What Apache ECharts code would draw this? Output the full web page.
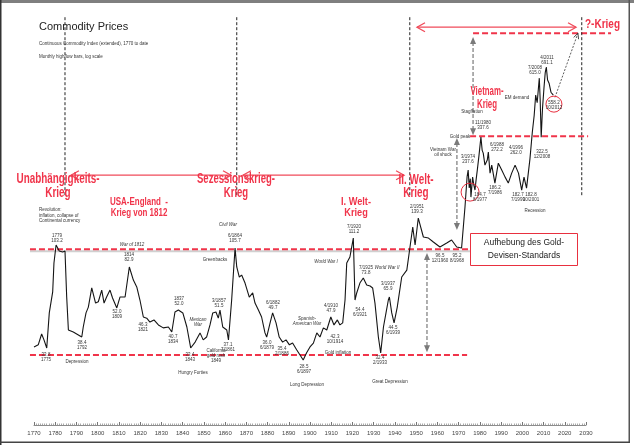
<!DOCTYPE html>
<html><head><meta charset="utf-8">
<script src="https://cdn.jsdelivr.net/npm/echarts@6/dist/echarts.min.js"></script>
<style>html,body{margin:0;padding:0;background:#fff}#c{width:634px;height:445px}</style>
</head><body><div id="c"></div>
<script>
// ---- data ----
const years = [1770,1772,1773.6,1774.7,1776,1777.2,1778.8,1779.4,1780.4,1781.9,1783.5,1784.6,1785.4,1786.2,1788.5,1790.9,1792.5,1793.2,1794.5,1795.6,1797.2,1799,1800.3,1801.9,1803,1804.2,1805.8,1807,1809,1810.5,1812.9,1814.9,1816.8,1818.4,1819.9,1821.5,1823.1,1824.6,1826.5,1828.6,1830.9,1833.3,1834.9,1836.4,1838,1840.1,1842,1843.8,1845.9,1848.2,1849.7,1851.3,1852.9,1854.2,1855.7,1856.8,1857.6,1858.9,1860.8,1861.6,1863.1,1864.7,1865.5,1866.7,1867.8,1869.4,1871.4,1873,1874.1,1875.7,1877.2,1878.8,1879.6,1881.2,1882.4,1884,1885.5,1887.1,1888.7,1890.3,1891.8,1893.7,1895.3,1896.8,1898.4,1900,1901.6,1903.2,1904.7,1906.3,1907.9,1909.8,1911.3,1912.9,1914.1,1915.4,1916.5,1917.3,1918.8,1920.4,1921.2,1922,1923.5,1925.1,1926.7,1928.3,1929.5,1930.6,1932.2,1933.3,1934.6,1935.8,1936.9,1937.4,1938.5,1939.6,1941.1,1943.2,1945.6,1947.1,1948.4,1949.5,1951,1953.4,1955.8,1958.1,1961.2,1964.4,1966.7,1969.1,1971.4,1973,1974,1974.5,1975,1975.5,1975.8,1976.6,1977.2,1977.7,1978.3,1978.8,1979.6,1980.5,1981.1,1981.6,1982.4,1983.5,1984,1984.8,1985.6,1987.1,1988.7,1990.3,1991.9,1993.4,1995,1996.6,1998.2,1999.7,2000.8,2002,2003.6,2004.7,2005.6,2006.3,2007,2008,2008.4,2008.9,2009.5,2010.2,2010.8,2011.3,2011.9,2012.6,2013.5,2014.6];
const values = [36.3,37.1,41.6,39.1,35.9,52.0,64.9,88.1,106.6,100,99,100,61.5,43.4,42.5,41.2,40.3,44.8,52.0,55.3,67.7,57.7,58.5,66.2,57.7,61.5,66.2,60.9,54.8,61.5,61.5,84.5,73.6,68.4,59.6,49.8,49.2,47.2,48.3,45.8,44.4,44.8,42.5,52.5,53.6,52.0,44.8,35.9,38.2,42.1,39.1,40.3,45.8,52.0,52.5,49.2,53.6,44.8,43.4,39.1,59.6,103.2,84.5,76.0,77.6,71.3,61.5,64.2,57.7,53.6,49.8,42.1,40.3,46.8,52.0,46.8,40.3,38.2,39.1,37.1,37.8,35.2,33.3,31.6,34.1,36.3,37.8,42.1,40.3,44.4,43.4,49.8,45.8,48.3,45.8,46.8,59.6,88.1,93.9,114.7,59.6,64.2,71.3,75.2,69.9,69.1,67.7,57.7,40.3,34.1,44.8,52.0,59.6,61.5,52.0,46.8,55.3,76.0,81.8,104.4,128.9,106.6,141.8,116.0,114.7,110.0,104.4,108.8,112.4,104.4,103.2,159.2,220,235.3,195,215,176.9,218.5,200,190.6,215,235.3,275,333.4,290,281.6,248.1,261.6,284.6,228.0,248.1,205.1,253.3,235.3,218.5,205.1,228.0,248.1,228.0,190.6,218.5,194.6,265,350,420,520,480,622,500,333,450,560,660,700,610,590,536,520];
const xTickLabels = [1770,1780,1790,1800,1810,1820,1830,1840,1850,1860,1870,1880,1890,1900,1910,1920,1930,1940,1950,1960,1970,1980,1990,2000,2010,2020,2030];

// annotation geometry in data space [yearStart, yearEnd, level]
const levelLines = [[1768.1,1976.3,102],[1768.1,1974,33.3],[1975.4,2031,337],[1976.8,2041.8,1000]];
// black dashed era separators [year, top, bottom]
const eraLines = [[1784.6,1185,179],[1865.5,1185,179],[1947,1185,179],[2028,1185,179]];
// red double arrows [yearStart, yearEnd, level]
const eraArrows = [[1787.4,1862.8,223],[1868.4,1944.3,223],[1950.4,2025.3,1066]];
// gray dashed vertical double arrows [year, top, bottom]
const rangeArrows = [[1976.8,960,340],[1969.2,330,125],[1955.1,98,34.3]];
// projection arrow [year1, v1, year2, v2]
const projection = [[2015.4,508,2026.2,1000]];
// circled points [year, value]
const circled = [[2014.9,472.6],[1975.4,186.5]];
const circleRadius = [8, 9];

const RED = '#f0344a';
const chart = echarts.init(document.getElementById('c'), null, {renderer:'canvas'});

const mctx = document.createElement('canvas').getContext('2d');
function fitScale(text, font, width){
  mctx.font = font;
  const w = Math.max(...text.split('\n').map(t => mctx.measureText(t).width));
  return width / w;
}

// small annotation texts: [x, y, text, italic?]
const notes = [
 [57,238,'1779\n103.2'],[132,245,'War of 1812',1],[129,257,'1814\n82.9'],[117,314,'52.0\n1809'],
 [143,327,'46.3\n1821'],[179,301,'1837\n52.0'],[173,339,'40.7\n1834'],[198,322,'Mexican\nWar',1],
 [219,303,'3/1857\n51.5'],[215,260,'Greenbacks'],[190,357,'33.4\n1843'],[77,362,'Depression'],
 [46,357,'33.8\n1775'],[82,345,'38.4\n1792'],[216,356,'California\ngold rush\n1849'],[193,373,'Hungry Forties'],
 [228,347,'37.1\n7/1861'],[228,225,'Civil War',1],[235,238,'6/1864\n105.7'],[267,345,'36.0\n6/1879'],
 [273,305,'6/1882\n49.7'],[282,351,'35.4\n2/1886'],[304,369,'28.5\n6/1897'],[307,385,'Long Depression'],
 [307,321,'Spanish-\nAmerican War',1],[331,308,'4/1910\n47.9'],[335,339,'42.3\n10/1914'],[326,262,'World War I',1],
 [354,229,'7/1920\n111.2'],[360,312,'54.4\n6/1921'],[366,270,'7/1925\n73.8'],[387,268,'World War II',1],
 [338,353,'Gold inflation'],[380,360,'32.4\n2/1933'],[390,382,'Great Depression'],[388,286,'3/1937\n65.9'],
 [393,330,'44.5\n6/1939'],[417,209,'2/1951\n139.3'],[440,258,'96.5\n12/1960'],[457,258,'95.2\n8/1968'],
 [443,152,'Vietnam War\noil shock'],[468,159,'3/1974\n237.6'],[480,197,'184.7\n8/1977'],[497,147,'6/1988\n272.2'],
 [495,190,'186.2\n7/1986'],[516,150,'4/1996\n262.0'],[518,197,'182.7\n7/1999'],[531,197,'182.8\n10/2001'],
 [535,211,'Recession'],[542,154,'322.5\n12/2008'],[483,125,'11/1980\n337.6'],[472,112,'Stagflation'],
 [460,137,'Gold peak'],[517,98,'EM demand'],[535,70,'7/2008\n615.0'],[547,60,'4/2011\n691.1'],[554,105,'558.2\n10/2012']
];
// war labels: [centerX, centerY, text, fontSize, lineHeight, targetWidth, align]
const wars = [
 [58,186,'Unabhängigkeits-\nKrieg',14,14,83,'center'],
 [139,207.5,'USA-England  -\nKrieg von 1812',10,11,58,'center'],
 [236,186,'Sezessionskrieg-\nKrieg',14,14,78,'center'],
 [356,207.5,'I. Welt-\nKrieg',11,11,30,'center'],
 [416,186.5,'II. Welt-\nKrieg',14,13,35,'center'],
 [487,98.5,'Vietnam-\nKrieg',12,13,33,'center'],
 [585,24,'?-Krieg',13,13,35,'left']
];

const FONT = '"Liberation Sans", Arial, sans-serif';
const graphics = [];
graphics.push({type:'rect', shape:{x:0,y:0,width:634,height:3}, style:{fill:'#7f7f7f'}, z:200});
graphics.push({type:'rect', shape:{x:0,y:0,width:1.5,height:445}, style:{fill:'#333'}, z:200});
graphics.push({type:'rect', shape:{x:628.5,y:0,width:1.5,height:443}, style:{fill:'#555'}, z:200});
graphics.push({type:'rect', shape:{x:0,y:441.5,width:630,height:1.5}, style:{fill:'#444'}, z:200});
graphics.push({type:'text', x:39, y:27, style:{text:'Commodity Prices', font:'11px '+FONT, fill:'#222', align:'left', verticalAlign:'middle'}, z:50});
graphics.push({type:'text', x:39, y:44, style:{text:'Continuous Commodity Index (extended), 1770 to date', font:'4.5px '+FONT, fill:'#333', align:'left', verticalAlign:'middle'}, z:50});
graphics.push({type:'text', x:39, y:57, style:{text:'Monthly high/low bars, log scale', font:'4.5px '+FONT, fill:'#333', align:'left', verticalAlign:'middle'}, z:50});
graphics.push({type:'text', x:39, y:215.5, style:{text:'Revolution:\ninflation, collapse of\nContinental currency', font:'4.5px '+FONT, fill:'#333', align:'left', verticalAlign:'middle', lineHeight:5.5}, z:50});
notes.forEach(n => {
  graphics.push({type:'text', x:n[0], y:n[1], style:{text:n[2], font:(n[3]?'italic ':'')+'4.5px '+FONT, fill:'#333', align:'center', verticalAlign:'middle', lineHeight:5}, z:50});
});
wars.forEach(w => {
  const font = 'bold '+w[3]+'px '+FONT;
  const s = fitScale(w[2], font, w[5]);
  graphics.push({type:'text', x:w[0], y:w[1], scaleX:s, style:{text:w[2], font:font, fill:RED, align:w[6], verticalAlign:'middle', lineHeight:w[4]}, z:60});
});
graphics.push({type:'rect', shape:{x:470.5,y:233.5,width:107,height:32}, style:{fill:'#fff', stroke:'#e8303f', lineWidth:1}, z:100});
graphics.push({type:'text', x:524, y:249.5, style:{text:'Aufhebung des Gold-\nDevisen-Standards', font:'8.5px '+FONT, fill:'#222', align:'center', verticalAlign:'middle', lineHeight:13}, z:101});

function chevron(x, y, dir, len, half){ // dir: +1 points right, -1 left
  return [[x - dir*len, y - half],[x, y],[x - dir*len, y + half]];
}

const option = {
  animation:false,
  backgroundColor:'#fff',
  grid:{left:34, right:48, top:16, bottom:20, containLabel:false},
  xAxis:{type:'value', min:1770, max:2030, interval:10,
    axisLine:{lineStyle:{color:'#8c8c8c', width:1}},
    axisTick:{inside:true, length:3, lineStyle:{color:'#777'}},
    minorTick:{show:true, splitNumber:10, length:1.5, lineStyle:{color:'#aaa'}},
    splitLine:{show:false},
    axisLabel:{fontSize:6, color:'#444', margin:5, fontFamily:FONT,
      formatter: v => xTickLabels.indexOf(v) >= 0 ? String(v) : ''}},
  yAxis:{type:'log', logBase:10, min:15.9, max:1200, show:false, splitLine:{show:false}},
  graphic: graphics,
  series:[
    {type:'custom', coordinateSystem:'cartesian2d', clip:false, silent:true, z:3, data:levelLines,
      renderItem:(p, api) => {
        const a = api.coord([api.value(0), api.value(2)]);
        const b = api.coord([api.value(1), api.value(2)]);
        const children = [];
        if (p.dataIndex === 0) children.push({type:'line', shape:{x1:a[0],y1:a[1]+2,x2:b[0],y2:b[1]+2}, style:{stroke:'#d0d0d0', lineWidth:2}});
        children.push({type:'line', shape:{x1:a[0],y1:a[1],x2:b[0],y2:b[1]}, style:{stroke:RED, lineWidth:2, lineDash:[6,3]}});
        return {type:'group', children};
      }},
    {type:'custom', coordinateSystem:'cartesian2d', clip:false, silent:true, z:3, data:eraLines,
      renderItem:(p, api) => {
        const a = api.coord([api.value(0), api.value(1)]);
        const b = api.coord([api.value(0), api.value(2)]);
        return {type:'line', shape:{x1:a[0],y1:a[1],x2:b[0],y2:b[1]}, style:{stroke:'#222', lineWidth:1, lineDash:[3,2]}};
      }},
    {type:'custom', coordinateSystem:'cartesian2d', clip:false, silent:true, z:3, data:eraArrows,
      renderItem:(p, api) => {
        const a = api.coord([api.value(0), api.value(2)]);
        const b = api.coord([api.value(1), api.value(2)]);
        const st = {stroke:'#f04b5a', lineWidth:1.3, fill:null};
        return {type:'group', children:[
          {type:'line', shape:{x1:a[0],y1:a[1],x2:b[0],y2:b[1]}, style:st},
          {type:'polyline', shape:{points:chevron(a[0],a[1],-1,8,4.5)}, style:st},
          {type:'polyline', shape:{points:chevron(b[0],b[1],1,8,4.5)}, style:st}
        ]};
      }},
    {type:'custom', coordinateSystem:'cartesian2d', clip:false, silent:true, z:3, data:rangeArrows,
      renderItem:(p, api) => {
        const a = api.coord([api.value(0), api.value(1)]);
        const b = api.coord([api.value(0), api.value(2)]);
        const c = '#7a7a7a';
        return {type:'group', children:[
          {type:'line', shape:{x1:a[0],y1:a[1]+5,x2:b[0],y2:b[1]-5}, style:{stroke:c, lineWidth:1.2, lineDash:[4,2]}},
          {type:'polygon', shape:{points:[[a[0],a[1]],[a[0]-3,a[1]+7],[a[0]+3,a[1]+7]]}, style:{fill:c}},
          {type:'polygon', shape:{points:[[b[0],b[1]],[b[0]-3,b[1]-7],[b[0]+3,b[1]-7]]}, style:{fill:c}}
        ]};
      }},
    {type:'custom', coordinateSystem:'cartesian2d', clip:false, silent:true, z:4, data:projection,
      renderItem:(p, api) => {
        const a = api.coord([api.value(0), api.value(1)]);
        const b = api.coord([api.value(2), api.value(3)]);
        const ang = Math.atan2(b[1]-a[1], b[0]-a[0]);
        const L = 6, w = 0.45;
        const p1 = [b[0]-L*Math.cos(ang-w), b[1]-L*Math.sin(ang-w)];
        const p2 = [b[0]-L*Math.cos(ang+w), b[1]-L*Math.sin(ang+w)];
        return {type:'group', children:[
          {type:'line', shape:{x1:a[0],y1:a[1],x2:b[0],y2:b[1]}, style:{stroke:'#333', lineWidth:0.8, lineDash:[2,1.5]}},
          {type:'polyline', shape:{points:[p1,b,p2]}, style:{stroke:'#333', lineWidth:0.9, fill:null}}
        ]};
      }},
    {type:'custom', coordinateSystem:'cartesian2d', clip:false, silent:true, z:6, data:circled,
      renderItem:(p, api) => {
        const a = api.coord([api.value(0), api.value(1)]);
        return {type:'circle', shape:{cx:a[0], cy:a[1], r:circleRadius[p.dataIndex]}, style:{stroke:'#e8303f', lineWidth:1, fill:null}};
      }},
    {type:'line', data: years.map((y,i) => [y, values[i]]), showSymbol:false, symbol:'none', silent:true, z:5,
      lineStyle:{color:'#151515', width:1.1}}
  ]
};
chart.setOption(option);
</script>
</body></html>
